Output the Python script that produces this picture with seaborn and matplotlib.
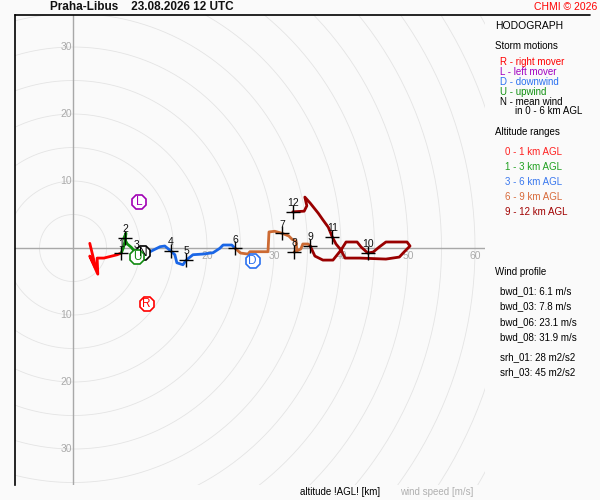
import matplotlib
matplotlib.use("Agg")
import matplotlib.pyplot as plt
from matplotlib.lines import Line2D
import numpy as np
import pandas as pd
import seaborn as sns

# hodograph trace (u, v in m/s), one list per altitude layer
layer_names = ["0-1", "1-3", "3-6", "6-9", "9-12"]
u_01 = [2.5, 3.4, 2.5, 3.7, 3.6, 4.6, 6.6, 7.2]
v_01 = [0.7, -3.0, -1.2, -3.9, -1.5, -1.5, -1.0, -0.75]
u_13 = [7.2, 7.5, 7.8, 7.9, 7.6, 8.1, 8.7, 9.5]
v_13 = [-0.75, 0.0, 1.2, 2.2, 1.5, 0.6, 0.1, -0.9]
u_36 = [9.5, 10.8, 13.0, 13.7, 14.6, 15.2, 15.5, 16.4, 16.9, 17.9, 19.4, 20.9, 21.9, 22.4, 23.7, 24.2]
v_36 = [-0.9, -0.9, 0.2, 0.3, -0.45, -1.0, -2.2, -2.5, -1.8, -1.0, -0.9, -0.7, -0.05, 0.45, 0.45, -0.05]
u_69 = [24.2, 25.0, 26.1, 26.4, 29.1, 29.25, 30.1, 31.2, 32.2, 32.7, 33.3, 33.4, 33.0, 34.0, 34.3, 35.1, 35.4]
v_69 = [-0.05, -0.75, -0.9, -0.55, -0.55, 2.4, 2.5, 2.2, 1.8, 1.3, 1.0, -0.45, -0.6, -0.15, 0.6, 0.6, 0.3]
u_912 = [35.4, 36.1, 37.3, 38.8, 40.0, 40.75, 42.4, 43.0, 44.0, 44.8, 45.7, 46.7, 49.85, 50.3, 49.55,
         48.7, 46.7, 42.8, 40.6, 40.0, 39.25, 38.7, 38.1, 37.3, 36.6, 35.4, 34.6, 34.9, 34.5, 32.8]
v_912 = [0.3, -1.2, -1.8, -1.8, -0.3, 0.9, 0.9, 0.15, -0.75, -0.6, 0.15, 0.9, 0.9, 0.3, -0.45,
         -1.35, -1.65, -1.5, -1.5, -0.3, 0.6, 1.65, 3.1, 4.2, 5.2, 6.7, 7.6, 6.3, 5.5, 5.4]

# height marks every km
km_labels = ["1", "2", "3", "4", "5", "6", "7", "8", "9", "10", "11", "12"]
km_u = [7.2, 7.8, 9.5, 14.6, 16.9, 24.2, 31.2, 33.0, 35.4, 44.0, 38.7, 32.8]
km_v = [-0.75, 1.5, -0.9, -0.45, -1.8, -0.05, 2.2, -0.6, 0.3, -0.75, 1.65, 5.4]

# storm motions
storm_letters = ["N", "U", "R", "L", "D"]
storm_u = [10.5, 9.6, 11.0, 9.9, 26.8]
storm_v = [-0.7, -1.3, -8.3, 6.8, -2.0]

layer_colors = ["#ff0000", "#109010", "#1a66e6", "#cc6a33", "#990000"]
storm_colors = ["#000000", "#108a10", "#ff0000", "#a000b4", "#2a70f0"]

bg = "#fafafa"
sns.set_theme(style="white")
plt.rcParams["font.family"] = ["Liberation Sans", "DejaVu Sans"]

W, H = 600, 500
fig = plt.figure(figsize=(6, 5), dpi=100, facecolor=bg)
ax = fig.add_axes([15 / W, 15 / H, 470 / W, 470 / H])
ax.set_facecolor(bg)
ax.set_xlim(-8.66, 61.49)
ax.set_ylim(-35.37, 34.78)

# range rings and axes
th = np.linspace(0, 2 * np.pi, 400)
for r in range(5, 75, 5):
    ax.plot(r * np.cos(th), r * np.sin(th), color="#e4e4e4", lw=0.6, zorder=1)
ax.axhline(0, color="#a8a8a8", lw=1.0, zorder=2)
ax.axvline(0, color="#a8a8a8", lw=1.0, zorder=2)
for t in [10, 20, 30]:
    for s in [1, -1]:
        ax.text(-0.2, s * t, str(t), color="#aaaaaa", fontsize=7.5, ha="right", va="center", zorder=2)
for t in [10, 20, 30, 40, 50, 60]:
    ax.text(t, -1.2, str(t), color="#aaaaaa", fontsize=7.5, ha="center", va="center", zorder=2)

# hodograph
us = [u_01, u_13, u_36, u_69, u_912]
vs = [v_01, v_13, v_36, v_69, v_912]
rows = []
for name, uu, vv in zip(layer_names, us, vs):
    for i, (a, b) in enumerate(zip(uu, vv)):
        rows.append({"layer": name, "i": i, "u": a, "v": b})
df = pd.DataFrame(rows)
sns.lineplot(data=df, x="u", y="v", hue="layer", units="layer", estimator=None, sort=False,
             palette=dict(zip(layer_names, layer_colors)), lw=2.0, legend=False, ax=ax, zorder=4)

km = pd.DataFrame({"u": km_u, "v": km_v, "lab": km_labels})
sns.scatterplot(data=km, x="u", y="v", marker="+", s=110, color="black", linewidth=1.0,
                legend=False, ax=ax, zorder=6)
for _, r in km.iterrows():
    ax.text(r.u, r.v + 1.3, r.lab, fontsize=7.5, color="#111111", ha="center", va="center", zorder=6)

for lab, uu, vv, c in zip(storm_letters, storm_u, storm_v, storm_colors):
    ax.plot(uu, vv, marker="8", ms=11.5, mfc="white", mec=c, mew=1.2, zorder=7)
    ax.text(uu, vv, lab, color=c, fontsize=8.5, ha="center", va="center", zorder=8)

ax.set_xlabel("")
ax.set_ylabel("")
ax.set_xticks([])
ax.set_yticks([])
for side in ["right", "bottom", "top"]:
    ax.spines[side].set_visible(False)
ax.spines["left"].set_color("black")
ax.spines["left"].set_linewidth(1.2)
fig.add_artist(Line2D([15 / W, 590 / W], [1 - 15 / H, 1 - 15 / H], color="black", lw=1.2))

def ftext(x, y, s, **kw):
    fig.text(x / W, 1 - y / H, s, va="center", **kw)

ftext(50, 7, "Praha-Libus    23.08.2026 12 UTC", fontsize=8.5, fontweight="bold", color="#111111")
ftext(597, 7, "CHMI © 2026", fontsize=7.5, color="#ff0000", ha="right")
ftext(495, 26, "HODOGRAPH", fontsize=7.5, color="black")
ftext(495, 46, "Storm motions", fontsize=7, color="black")
legend_lines = ["R - right mover", "L - left mover", "D - downwind", "U - upwind", "N - mean wind"]
legend_cols = ["#ff0000", "#a000c0", "#2a70f0", "#109010", "black"]
for k, (s, c) in enumerate(zip(legend_lines, legend_cols)):
    ftext(500, 62 + 10 * k, s, fontsize=7, color=c)
ftext(515, 111, "in 0 - 6 km AGL", fontsize=7, color="black")
ftext(495, 132, "Altitude ranges", fontsize=7, color="black")
alt_lines = ["0 - 1 km AGL", "1 - 3 km AGL", "3 - 6 km AGL", "6 - 9 km AGL", "9 - 12 km AGL"]
alt_cols = ["#ff2020", "#20a020", "#3a78ee", "#d86a3a", "#a00000"]
for k, (s, c) in enumerate(zip(alt_lines, alt_cols)):
    ftext(505, 152 + 15 * k, s, fontsize=7, color=c)
ftext(495, 272, "Wind profile", fontsize=7, color="black")
wind_lines = ["bwd_01: 6.1 m/s", "bwd_03: 7.8 m/s", "bwd_06: 23.1 m/s", "bwd_08: 31.9 m/s"]
for k, s in enumerate(wind_lines):
    ftext(500, 291 + 15.5 * k, s, fontsize=7, color="black")
ftext(500, 357, "srh_01: 28 m2/s2", fontsize=7, color="black")
ftext(500, 372, "srh_03: 45 m2/s2", fontsize=7, color="black")
ftext(300, 492, "altitude !AGL! [km]", fontsize=7, color="black")
ftext(400, 492, "wind speed [m/s]", fontsize=7, color="#b0b0b0")

fig.savefig("out.png", dpi=100, facecolor=bg)
